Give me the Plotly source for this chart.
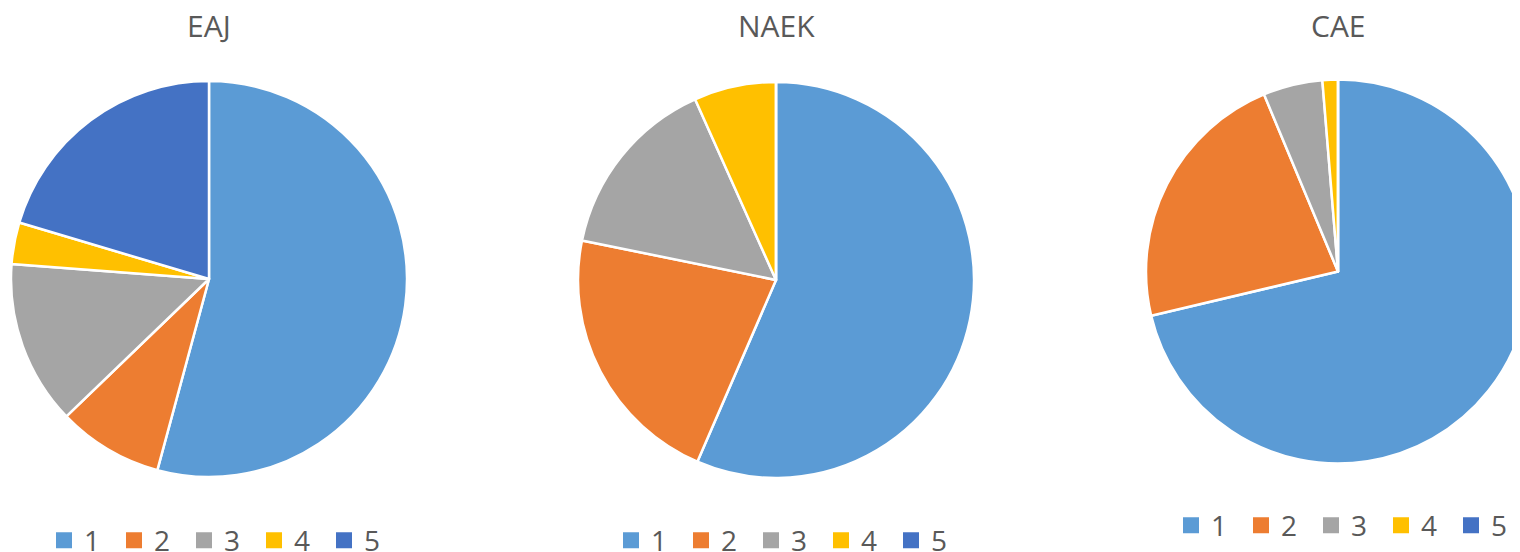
import plotly.graph_objects as go

labels = ["1", "2", "3", "4", "5"]
titles = ["EAJ", "NAEK", "CAE"]
eaj_values = [54.2, 8.6, 13.4, 3.4, 20.4]
naek_values = [56.5, 21.7, 15.1, 6.7, 0]
cae_values = [71.3, 22.4, 5.0, 1.3, 0]

colors = ["#5B9BD5", "#ED7D31", "#A5A5A5", "#FFC000", "#4472C4"]
OFF = 8            # page body margin in the browser
W, H = 1530, 544
FONT = "Open Sans"
TXT = "#595959"

def dom(sx, sy, r):
    # sx, sy: intended centre in screen pixels from top-left
    cx, cy = sx - OFF, sy - OFF
    return dict(x=[max((cx - r) / W, 0.0), min((cx + r) / W, 1.0)],
                y=[max((H - cy - r) / H, 0.0), min((H - cy + r) / H, 1.0)])

domains = [dom(209, 279, 198), dom(776, 280, 198), dom(1338, 271.5, 192)]
legend_names = ["legend", "legend2", "legend3"]
series = [eaj_values, naek_values, cae_values]

fig = go.Figure()
for vals, d, lg in zip(series, domains, legend_names):
    fig.add_trace(go.Pie(
        labels=labels, values=vals, sort=False, direction="clockwise", rotation=0,
        marker=dict(colors=colors, line=dict(color="white", width=2.5)),
        textinfo="none", hoverinfo="label+value", domain=d, showlegend=False,
    ))
    # legend keys (square markers) for this pie's own legend
    for lab, col in zip(labels, colors):
        fig.add_trace(go.Scatter(
            x=[None], y=[None], mode="markers", name=lab, legend=lg,
            marker=dict(symbol="square", size=16, color=col, line=dict(width=0)),
            showlegend=True, hoverinfo="skip",
        ))

def leg(sx_first, sy):
    return dict(orientation="h", xanchor="left", yanchor="middle", visible=True,
                x=(sx_first - OFF - 19) / W, y=(H - (sy - OFF + 1)) / H,
                font=dict(family=FONT, size=28, color=TXT),
                bgcolor="rgba(0,0,0,0)", entrywidth=25, entrywidthmode="pixels",
                traceorder="normal", itemsizing="trace", itemclick=False,
                itemdoubleclick=False)

title_x = [209, 776, 1338]
annotations = [dict(text=t, x=(x - OFF) / W, y=(H - (26 - OFF)) / H,
                    xref="paper", yref="paper",
                    xanchor="center", yanchor="middle", showarrow=False,
                    font=dict(family=FONT, size=30, color=TXT))
               for t, x in zip(titles, title_x)]

fig.update_layout(
    width=W, height=H, margin=dict(l=0, r=0, t=0, b=0, autoexpand=False),
    paper_bgcolor="white", plot_bgcolor="white",
    xaxis=dict(visible=False), yaxis=dict(visible=False),
    legend=leg(63, 539.5), legend2=leg(630, 539.5), legend3=leg(1190, 524.5),
    annotations=annotations, showlegend=True,
)
fig.write_html("out.html")
